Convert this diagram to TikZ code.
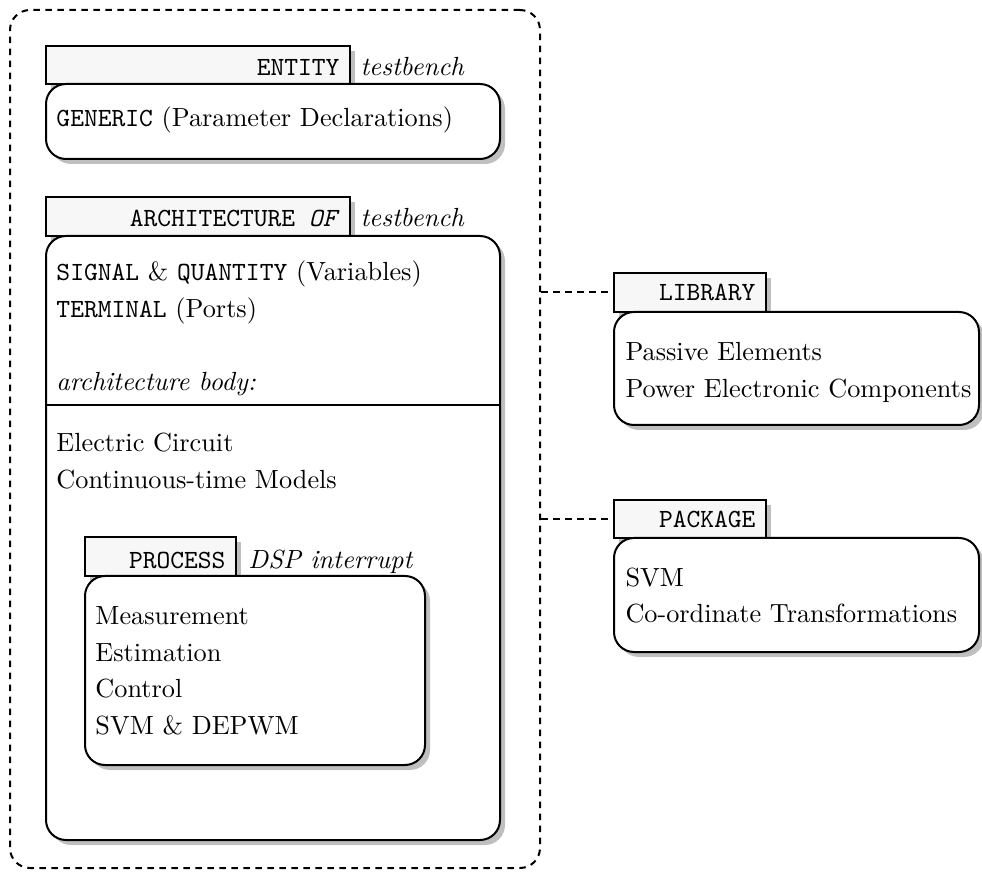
\documentclass[tikz,border=0pt]{standalone}
\usetikzlibrary{shadows,fit}
\begin{document}
\begin{tikzpicture}[x=0.4pt,y=-0.4pt,
  every node/.style={font=\fontsize{10.5}{14.6}\selectfont},
  sysframe/.style={draw, thick, dash pattern=on 2.6pt off 2.2pt, rounded corners=8pt, inner sep=0pt},
  tabbox/.style={draw, thick, fill=black!3, inner sep=0pt,
    drop shadow={shadow xshift=2pt, shadow yshift=-2pt, fill=black!25, opacity=1}},
  bodybox/.style={draw, thick, fill=white, rounded corners=8pt, inner sep=0pt,
    drop shadow={shadow xshift=2pt, shadow yshift=-2pt, fill=black!25, opacity=1}},
  kw/.style={anchor=base east, inner sep=0pt, font=\fontsize{10.5}{14.6}\selectfont\ttfamily},
  tag/.style={anchor=base west, inner sep=0pt, font=\fontsize{10.5}{14.6}\selectfont\itshape},
  line/.style={anchor=base west, inner sep=0pt},
  link/.style={thick, dash pattern=on 2.6pt off 2.2pt}
]
\useasboundingbox (0,0) rectangle (982,879);

% design unit containing entity and architecture
\node[sysframe, fit={(10,10)(540,868)}] (sys) {};

% ENTITY
\node[tabbox, fit={(46,46)(350,84)}] (enttab) {};
\node[bodybox, fit={(46,84)(500,159)}] (entbody) {};
\node[kw] (entkw) at (340,76) {ENTITY};
\node[tag] (entname) at (360,76) {testbench};
\node[line] (ent1) at (56,127) {\texttt{GENERIC} (Parameter Declarations)};

% ARCHITECTURE
\node[tabbox, fit={(46,197)(350,236)}] (archtab) {};
\node[bodybox, fit={(46,236)(500,840)}] (archbody) {};
\node[kw] (archkw) at (340,227) {ARCHITECTURE \textit{OF}};
\node[tag] (archname) at (360,227) {testbench};
\coordinate (sepy) at (0,405);
\draw[thick] (archbody.west |- sepy) -- (archbody.east |- sepy);
\node[line] (arch1) at (56,281) {\texttt{SIGNAL} \& \texttt{QUANTITY} (Variables)};
\node[line] (arch2) at (56,317.5) {\texttt{TERMINAL} (Ports)};
\node[line] (arch3) at (56,390.5) {\itshape architecture body:};
\node[line] (arch4) at (56,452) {Electric Circuit};
\node[line] (arch5) at (56,488.5) {Continuous-time Models};

% PROCESS
\node[tabbox, fit={(85,537)(236,576)}] (proctab) {};
\node[bodybox, fit={(85,576)(425,765)}] (procbody) {};
\node[kw] (prockw) at (226,568) {PROCESS};
\node[tag] (procname) at (248,568) {DSP interrupt};
\foreach \t [count=\i] in {Measurement, Estimation, Control, SVM \& DEPWM}
  \node[line] (proc\i) at ({95},{625+36.5*(\i-1)}) {\t};

% LIBRARY
\node[tabbox, fit={(614,273)(766,312)}] (libtab) {};
\node[bodybox, fit={(614,312)(979,425)}] (libbody) {};
\node[kw] (libkw) at (756,301) {LIBRARY};
\node[line] (lib1) at (625,361) {Passive Elements};
\node[line] (lib2) at (625,397.5) {Power Electronic Components};

% PACKAGE
\node[tabbox, fit={(614,500)(766,538)}] (pkgtab) {};
\node[bodybox, fit={(614,538)(979,652)}] (pkgbody) {};
\node[kw] (pkgkw) at (756,528) {PACKAGE};
\node[line] (pkg1) at (625,586) {SVM};
\node[line] (pkg2) at (625,622.5) {Co-ordinate Transformations};

% links from the design unit to library and package
\draw[link] (sys.east |- libtab.west) -- (libtab.west);
\draw[link] (sys.east |- pkgtab.west) -- (pkgtab.west);
\end{tikzpicture}
\end{document}
